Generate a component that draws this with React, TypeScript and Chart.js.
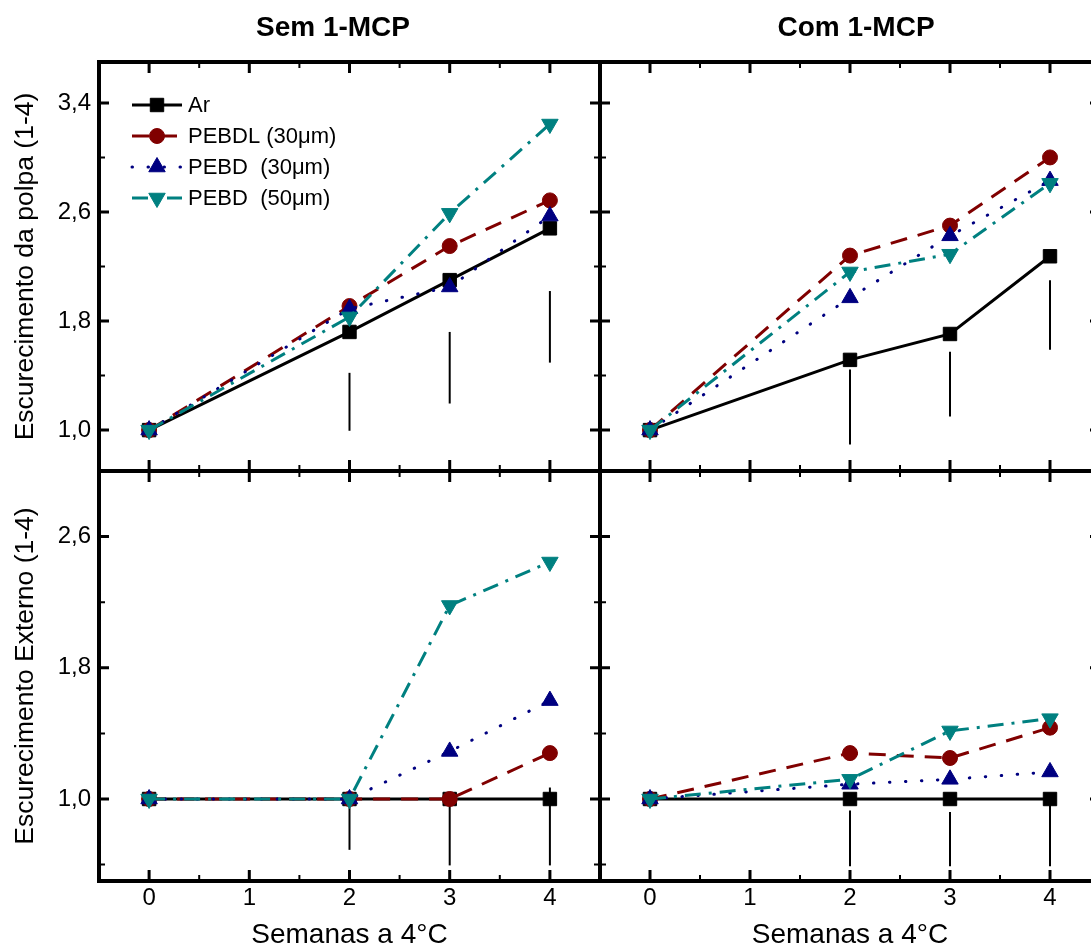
import React, { useEffect, useRef } from 'react';
import { Chart, registerables } from 'chart.js';
import { drawPoint } from 'chart.js/helpers';

Chart.register(...registerables);

const FONT = '"Liberation Sans", Arial, Helvetica, sans-serif';

// ---------- data ----------
const WEEKS = [0, 2, 3, 4];
const SERIES_LABELS = ['Ar', 'PEBDL (30\u03bcm)', 'PEBD  (30\u03bcm)', 'PEBD  (50\u03bcm)'];
const X_TICKS = [0, 1, 2, 3, 4];
const X_MINOR = [0.5, 1.5, 2.5, 3.5];
const X_TITLE = 'Semanas a 4\u00b0C';
const PANEL_TITLES = ['Sem 1-MCP', 'Com 1-MCP'];

const TOP_Y_TICKS = [1.0, 1.8, 2.6, 3.4];
const TOP_Y_MINOR = [1.4, 2.2, 3.0];
const BOTTOM_Y_TICKS = [1.0, 1.8, 2.6];
const BOTTOM_Y_MINOR = [0.6, 1.4, 2.2];
const TOP_Y_TITLE = 'Escurecimento da polpa (1-4)';
const BOTTOM_Y_TITLE = 'Escurecimento Externo (1-4)';

// Escurecimento da polpa - Sem 1-MCP
const POLPA_SEM_AR = [1.0, 1.72, 2.1, 2.48];
const POLPA_SEM_PEBDL = [1.0, 1.91, 2.35, 2.685];
const POLPA_SEM_PEBD30 = [1.0, 1.89, 2.05, 2.57];
const POLPA_SEM_PEBD50 = [1.0, 1.83, 2.59, 3.245];
// Escurecimento da polpa - Com 1-MCP
const POLPA_COM_AR = [1.0, 1.515, 1.705, 2.275];
const POLPA_COM_PEBDL = [1.0, 2.28, 2.5, 3.0];
const POLPA_COM_PEBD30 = [1.0, 1.97, 2.425, 2.83];
const POLPA_COM_PEBD50 = [1.0, 2.16, 2.29, 2.81];
// Escurecimento externo - Sem 1-MCP
const EXT_SEM_AR = [1.0, 1.0, 1.0, 1.0];
const EXT_SEM_PEBDL = [1.0, 1.0, 1.0, 1.28];
const EXT_SEM_PEBD30 = [1.0, 1.0, 1.29, 1.6];
const EXT_SEM_PEBD50 = [1.0, 1.0, 2.18, 2.445];
// Escurecimento externo - Com 1-MCP
const EXT_COM_AR = [1.0, 1.0, 1.0, 1.0];
const EXT_COM_PEBDL = [1.0, 1.28, 1.25, 1.435];
const EXT_COM_PEBD30 = [1.0, 1.09, 1.12, 1.165];
const EXT_COM_PEBD50 = [1.0, 1.12, 1.415, 1.49];

// LSD bars (x, low, high)
const BAR_X = [2, 3, 4];
const BAR_POLPA_SEM_LOW = [0.995, 1.195, 1.495];
const BAR_POLPA_SEM_HIGH = [1.42, 1.72, 2.02];
const BAR_POLPA_COM_LOW = [0.895, 1.1, 1.59];
const BAR_POLPA_COM_HIGH = [1.445, 1.575, 2.1];
const BAR_EXT_SEM_LOW = [0.69, 0.595, 0.595];
const BAR_EXT_SEM_HIGH = [0.99, 1.0, 1.07];
const BAR_EXT_COM_LOW = [0.59, 0.59, 0.59];
const BAR_EXT_COM_HIGH = [0.93, 0.92, 1.0];

// ---------- styles ----------
const STYLES = [
  { color: '#000000', dash: [] as number[], cap: 'butt', point: 'rect', radius: 9.5, rotation: 0 },
  { color: '#800000', dash: [17, 11], cap: 'butt', point: 'circle', radius: 7.5, rotation: 0 },
  { color: '#000080', dash: [0.5, 15.5], cap: 'round', point: 'triangle', radius: 9.5, rotation: 0 },
  { color: '#008080', dash: [16, 8, 3, 8], cap: 'butt', point: 'triangle', radius: 9.5, rotation: 180 },
];

type Panel = {
  series: number[][];
  yMin: number;
  yMax: number;
  yTicks: number[];
  yMinor: number[];
  yTitle: string;
  showY: boolean;
  showX: boolean;
  title: string | null;
  titleX: number;
  legend: boolean;
  barLow: number[];
  barHigh: number[];
  padding: { left: number; right: number; top: number; bottom: number };
  yWidth: number;
  xHeight: number;
};

function zeroPad(s: any) {
  s.paddingLeft = 0;
  s.paddingRight = 0;
  s.paddingTop = 0;
  s.paddingBottom = 0;
}

function makeDecor(panel: Panel) {
  return {
    id: 'panelDecor',
    beforeDatasetsDraw(chart: any) {
      const { ctx } = chart;
      const x = chart.scales.x;
      const y = chart.scales.y;
      ctx.save();
      ctx.strokeStyle = '#000';
      ctx.lineWidth = 2;
      BAR_X.forEach((xv, i) => {
        const px = x.getPixelForValue(xv);
        ctx.beginPath();
        ctx.moveTo(px, y.getPixelForValue(panel.barLow[i]));
        ctx.lineTo(px, y.getPixelForValue(panel.barHigh[i]));
        ctx.stroke();
      });
      ctx.restore();
    },
    afterDatasetsDraw(chart: any) {
      if (!panel.legend) return;
      const { ctx, chartArea } = chart;
      chart.data.datasets.forEach((ds: any, i: number) => {
        const st = STYLES[i];
        const yy = chartArea.top + 43 + i * 31;
        const x0 = chartArea.left + 33;
        const x1 = chartArea.left + 83;
        const xm = chartArea.left + 58;
        ctx.save();
        ctx.strokeStyle = st.color;
        ctx.lineWidth = 3;
        ctx.lineCap = st.cap;
        ctx.setLineDash(st.dash);
        ctx.beginPath();
        ctx.moveTo(x0, yy);
        ctx.lineTo(x1, yy);
        ctx.stroke();
        ctx.setLineDash([]);
        ctx.lineCap = 'butt';
        ctx.fillStyle = st.color;
        ctx.strokeStyle = st.color;
        ctx.lineWidth = 1;
        drawPoint(ctx, { pointStyle: st.point, radius: st.radius, rotation: st.rotation, borderWidth: 1 } as any, xm, yy);
        ctx.fillStyle = '#000';
        ctx.font = `22px ${FONT}`;
        ctx.textAlign = 'left';
        ctx.textBaseline = 'middle';
        ctx.fillText(ds.label, chartArea.left + 89, yy + 1);
        ctx.restore();
      });
    },
    afterDraw(chart: any) {
      const { ctx, chartArea } = chart;
      const { left, right, top, bottom } = chartArea;
      const x = chart.scales.x;
      const y = chart.scales.y;
      ctx.save();
      ctx.strokeStyle = '#000';
      const tick = (vals: number[], len: number, w: number) => {
        ctx.lineWidth = w;
        vals.forEach((v) => {
          const px = x.getPixelForValue(v);
          ctx.beginPath();
          ctx.moveTo(px, top);
          ctx.lineTo(px, top + len);
          ctx.moveTo(px, bottom);
          ctx.lineTo(px, bottom - len);
          ctx.stroke();
        });
      };
      const ytick = (vals: number[], len: number, w: number) => {
        ctx.lineWidth = w;
        vals.forEach((v) => {
          const py = y.getPixelForValue(v);
          ctx.beginPath();
          ctx.moveTo(left, py);
          ctx.lineTo(left + len, py);
          ctx.moveTo(right, py);
          ctx.lineTo(right - len, py);
          ctx.stroke();
        });
      };
      tick(X_TICKS, 11, 3);
      tick(X_MINOR, 6, 2);
      ytick(panel.yTicks, 10, 3);
      ytick(panel.yMinor, 6, 2);
      ctx.lineWidth = 4;
      ctx.strokeRect(left, top, right - left, bottom - top);
      if (panel.title) {
        ctx.fillStyle = '#000';
        ctx.font = `bold 28px ${FONT}`;
        ctx.textAlign = 'center';
        ctx.textBaseline = 'middle';
        ctx.fillText(panel.title, panel.titleX, 28);
      }
      ctx.restore();
    },
  };
}

function buildChart(canvas: HTMLCanvasElement, panel: Panel) {
  return new Chart(canvas, {
    type: 'line',
    data: {
      datasets: panel.series.map((vals, i) => ({
        label: SERIES_LABELS[i],
        data: WEEKS.map((w, j) => ({ x: w, y: vals[j] })),
        borderColor: STYLES[i].color,
        backgroundColor: STYLES[i].color,
        pointBackgroundColor: STYLES[i].color,
        pointBorderColor: STYLES[i].color,
        borderWidth: 3,
        borderDash: STYLES[i].dash,
        borderCapStyle: STYLES[i].cap as any,
        pointStyle: STYLES[i].point as any,
        pointRadius: STYLES[i].radius,
        pointRotation: STYLES[i].rotation,
        pointBorderWidth: 1,
        order: 3 - i,
        tension: 0,
        fill: false,
      })),
    },
    options: {
      animation: false,
      responsive: false,
      maintainAspectRatio: false,
      events: [],
      layout: { padding: panel.padding, autoPadding: false },
      plugins: { legend: { display: false }, tooltip: { enabled: false }, title: { display: false } },
      scales: {
        x: {
          type: 'linear',
          position: 'bottom',
          min: -0.5,
          max: 4.5,
          grid: { display: false, drawTicks: false },
          border: { display: false },
          afterBuildTicks: (s: any) => {
            s.ticks = X_TICKS.map((v) => ({ value: v }));
          },
          afterFit: (s: any) => {
            s.height = panel.xHeight;
            zeroPad(s);
          },
          ticks: {
            display: panel.showX,
            padding: 3,
            autoSkip: false,
            maxRotation: 0,
            color: '#000',
            font: { family: FONT, size: 24 },
            callback: (v: any) => String(v),
          },
          title: {
            display: panel.showX,
            text: X_TITLE,
            color: '#000',
            font: { family: FONT, size: 28, lineHeight: 1 },
            padding: { top: 0, bottom: 0 },
          },
        },
        y: {
          type: 'linear',
          min: panel.yMin,
          max: panel.yMax,
          grid: { display: false, drawTicks: false },
          border: { display: false },
          afterBuildTicks: (s: any) => {
            s.ticks = panel.yTicks.map((v) => ({ value: v }));
          },
          afterFit: (s: any) => {
            s.width = panel.yWidth;
            zeroPad(s);
          },
          ticks: {
            display: panel.showY,
            padding: 8,
            color: '#000',
            font: { family: FONT, size: 24 },
            callback: (v: any) => Number(v).toFixed(1).replace('.', ','),
          },
          title: {
            display: panel.showY,
            text: panel.yTitle,
            color: '#000',
            font: { family: FONT, size: 26.5, lineHeight: 1.2 },
            padding: { top: 10, bottom: 0 },
          },
        },
      },
    },
    plugins: [makeDecor(panel) as any],
  });
}

const PANELS: Panel[] = [
  {
    series: [POLPA_SEM_AR, POLPA_SEM_PEBDL, POLPA_SEM_PEBD30, POLPA_SEM_PEBD50],
    yMin: 0.7, yMax: 3.7, yTicks: TOP_Y_TICKS, yMinor: TOP_Y_MINOR, yTitle: TOP_Y_TITLE,
    showY: true, showX: false, title: PANEL_TITLES[0], titleX: 333, legend: true,
    barLow: BAR_POLPA_SEM_LOW, barHigh: BAR_POLPA_SEM_HIGH,
    padding: { left: 0, right: 6, top: 62, bottom: 6 }, yWidth: 99, xHeight: 0,
  },
  {
    series: [POLPA_COM_AR, POLPA_COM_PEBDL, POLPA_COM_PEBD30, POLPA_COM_PEBD50],
    yMin: 0.7, yMax: 3.7, yTicks: TOP_Y_TICKS, yMinor: TOP_Y_MINOR, yTitle: TOP_Y_TITLE,
    showY: false, showX: false, title: PANEL_TITLES[1], titleX: 262, legend: false,
    barLow: BAR_POLPA_COM_LOW, barHigh: BAR_POLPA_COM_HIGH,
    padding: { left: 6, right: 6, top: 62, bottom: 6 }, yWidth: 0, xHeight: 0,
  },
  {
    series: [EXT_SEM_AR, EXT_SEM_PEBDL, EXT_SEM_PEBD30, EXT_SEM_PEBD50],
    yMin: 0.5, yMax: 3.0, yTicks: BOTTOM_Y_TICKS, yMinor: BOTTOM_Y_MINOR, yTitle: BOTTOM_Y_TITLE,
    showY: true, showX: true, title: null, titleX: 0, legend: false,
    barLow: BAR_EXT_SEM_LOW, barHigh: BAR_EXT_SEM_HIGH,
    padding: { left: 0, right: 6, top: 6, bottom: 0 }, yWidth: 99, xHeight: 68,
  },
  {
    series: [EXT_COM_AR, EXT_COM_PEBDL, EXT_COM_PEBD30, EXT_COM_PEBD50],
    yMin: 0.5, yMax: 3.0, yTicks: BOTTOM_Y_TICKS, yMinor: BOTTOM_Y_MINOR, yTitle: BOTTOM_Y_TITLE,
    showY: false, showX: true, title: null, titleX: 0, legend: false,
    barLow: BAR_EXT_COM_LOW, barHigh: BAR_EXT_COM_HIGH,
    padding: { left: 6, right: 6, top: 6, bottom: 0 }, yWidth: 0, xHeight: 68,
  },
];

const BOXES = [
  { left: 0, top: 0, width: 606, height: 477 },
  { left: 594, top: 0, width: 512, height: 477 },
  { left: 0, top: 465, width: 606, height: 484 },
  { left: 594, top: 465, width: 512, height: 484 },
];

export default function App() {
  const refs = [useRef<HTMLCanvasElement>(null), useRef<HTMLCanvasElement>(null), useRef<HTMLCanvasElement>(null), useRef<HTMLCanvasElement>(null)];
  useEffect(() => {
    Chart.defaults.font.family = FONT;
    const charts = refs.map((r, i) => buildChart(r.current as HTMLCanvasElement, PANELS[i]));
    return () => charts.forEach((c) => c.destroy());
  }, []);
  return (
    <div style={{ position: 'absolute', left: 0, top: 0, width: 1091, height: 949, overflow: 'hidden', background: '#fff' }}>
      {BOXES.map((b, i) => (
        <canvas
          key={i}
          ref={refs[i]}
          width={b.width}
          height={b.height}
          style={{ position: 'absolute', left: b.left, top: b.top, width: b.width, height: b.height }}
        />
      ))}
    </div>
  );
}
